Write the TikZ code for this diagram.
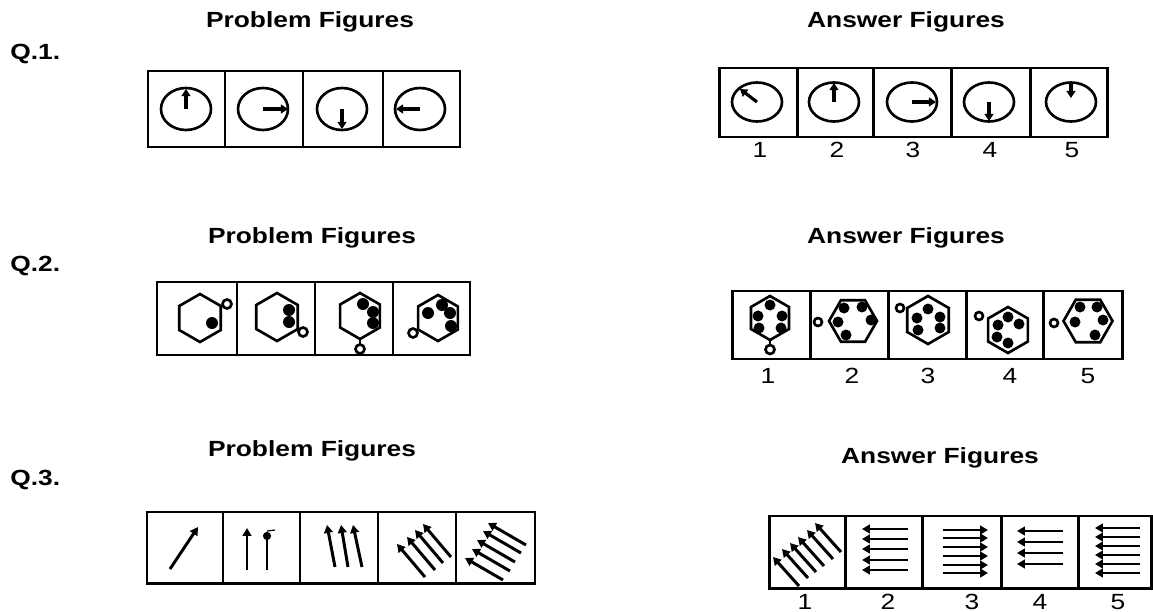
\documentclass[tikz,border=0pt]{standalone}
\usepackage{fontspec}
\setmainfont{Liberation Sans}
\usepackage{graphicx}
\usetikzlibrary{arrows.meta}

\tikzset{
  figbox/.style={draw, line width=1.7pt},
  rim/.style={line width=1.5pt},
  hand/.style={line width=1.8pt, -{Triangle[length=4pt,width=5pt]}},
  dart/.style={line width=1.7pt, -{Triangle[length=4.5pt,width=5pt]}},
  heading/.style={font=\fontsize{12.5}{14}\selectfont\bfseries, anchor=base, inner sep=0pt},
  qlabel/.style={font=\fontsize{12.5}{14}\selectfont\bfseries, anchor=base west, inner sep=0pt},
  numlabel/.style={font=\fontsize{12.5}{14}\selectfont, anchor=base, inner sep=0pt}
}
\newcommand{\widetext}[1]{\scalebox{1.2}[1]{#1}}
% hexagon: centre x, centre y, radius, first corner angle
\newcommand{\hexa}[4]{%
  \draw[rim] (#1,#2) +({#4}:#3) -- +({#4+60}:#3) -- +({#4+120}:#3)
    -- +({#4+180}:#3) -- +({#4+240}:#3) -- +({#4+300}:#3) -- cycle;}

\begin{document}
\begin{tikzpicture}[x=0.02cm, y=-0.02cm]
    \useasboundingbox (0,0) rectangle (1153,612);

    % ---------------- Q.1 ----------------
    \node[qlabel] (q1) at (10,59) {\widetext{Q.1.}};
    \node[heading] (pf1) at (310,28) {\widetext{Problem Figures}};
    \node[heading] (af1) at (906,28) {\widetext{Answer Figures}};

    % problem figures
    \foreach \xa/\xb in {148/225, 225/303, 303/383, 383/460}
        \draw[figbox] (\xa,71) rectangle (\xb,147);
    \foreach \cx in {186,263,342,420}
        \draw[rim] (\cx,109) ellipse [x radius=25, y radius=21];
    \draw[hand] (186,109) -- (186,89);
    \draw[hand] (263,109) -- (288,109);
    \draw[hand] (342,109) -- (342,129);
    \draw[hand] (420,109) -- (396,109);

    % answer figures
    \foreach \xa/\xb in {719/797, 797/873, 873/951, 951/1030, 1030/1107}
        \draw[figbox] (\xa,68) rectangle (\xb,137);
    \foreach \cx in {757,834,912,989,1071}
        \draw[rim] (\cx,102) ellipse [x radius=25, y radius=19.5];
    \draw[hand] (757,102) -- (740,89);
    \draw[hand] (834,102) -- (834,83);
    \draw[hand] (912,102) -- (936,102);
    \draw[hand] (989,102) -- (989,121);
    \draw[hand] (1071,83) -- (1071,98);
    \foreach \i/\nx in {1/760, 2/837, 3/913, 4/990, 5/1072}
        \node[numlabel] (na\i) at (\nx,157) {\widetext{\i}};

    % ---------------- Q.2 ----------------
    \node[qlabel] (q2) at (10,271) {\widetext{Q.2.}};
    \node[heading] (pf2) at (312,243) {\widetext{Problem Figures}};
    \node[heading] (af2) at (906,243) {\widetext{Answer Figures}};

    % problem figures
    \foreach \xa/\xb in {157/237, 237/315, 315/393, 393/470}
        \draw[figbox] (\xa,282) rectangle (\xb,355);
    \hexa{200}{318}{24}{90}
    \draw[rim] (227,304) circle [radius=4.5];
    \fill (212,323) circle [radius=6];

    \hexa{277}{317}{24}{90}
    \draw[rim] (303,332) circle [radius=4.5];
    \foreach \dx/\dy in {289/310, 289/322}
        \fill (\dx,\dy) circle [radius=6];

    \hexa{360}{316}{23}{90}
    \draw[rim] (360,339) -- (360,344.5);
    \draw[rim] (360,349) circle [radius=4.5];
    \foreach \dx/\dy in {363/304, 373/312, 373/323}
        \fill (\dx,\dy) circle [radius=6];

    \hexa{438}{318}{23}{90}
    \draw[rim] (413,333) circle [radius=4.5];
    \foreach \dx/\dy in {428/313, 442/305, 450/313, 451/326}
        \fill (\dx,\dy) circle [radius=6];

    % answer figures
    \foreach \xa/\xb in {732/810, 810/888, 888/966, 966/1043, 1043/1122}
        \draw[figbox] (\xa,291) rectangle (\xb,359);
    \hexa{770}{318}{22}{90}
    \draw[rim] (770,340) -- (770,345);
    \draw[rim] (770,349.5) circle [radius=4.5];
    \foreach \dx/\dy in {770/305, 758/316, 782/316, 759/328, 781/328}
        \fill (\dx,\dy) circle [radius=5.5];

    \hexa{853}{321}{24}{0}
    \draw[rim] (818,322) circle [radius=4];
    \foreach \dx/\dy in {844/308, 862/307, 838/322, 871/320, 846/335}
        \fill (\dx,\dy) circle [radius=5.5];

    \hexa{928}{320}{24}{90}
    \draw[rim] (900,308) circle [radius=4];
    \foreach \dx/\dy in {928/309, 940/317, 940/328, 917/318, 918/330}
        \fill (\dx,\dy) circle [radius=5.5];

    \hexa{1008}{330}{23}{90}
    \draw[rim] (979,316) circle [radius=4];
    \foreach \dx/\dy in {1008/317, 998/325, 1019/324, 997/337, 1008/343}
        \fill (\dx,\dy) circle [radius=5.5];

    \hexa{1088}{321}{24.5}{0}
    \draw[rim] (1054,323) circle [radius=4];
    \foreach \dx/\dy in {1080/307, 1097/307, 1103/320, 1075/322, 1095/335}
        \fill (\dx,\dy) circle [radius=5.5];

    \foreach \i/\nx in {1/768, 2/852, 3/928, 4/1010, 5/1088}
        \node[numlabel] (nb\i) at (\nx,383) {\widetext{\i}};

    % ---------------- Q.3 ----------------
    \node[qlabel] (q3) at (10,485) {\widetext{Q.3.}};
    \node[heading] (pf3) at (312,456) {\widetext{Problem Figures}};
    \node[heading] (af3) at (940,463) {\widetext{Answer Figures}};

    % problem figures
    \foreach \xa/\xb in {147/223, 223/300, 300/378, 378/456, 456/535}
        \draw[figbox] (\xa,512) rectangle (\xb,583);
    \draw[dart] (170,569) -- (198,527);
    \draw[dart] (247,570) -- (247,528);
    \draw[line width=1.7pt, -{Circle[length=4.5pt]}] (267,570) -- (267,532);
    \draw[line width=0.7pt] (267,531) -- (275,530);
    \foreach \tx/\hx in {335/327, 348/341, 362/353}
        \draw[dart] (\tx,567) -- (\hx,525);
    \foreach \hx/\hy in {397/544, 407/537, 415/530, 423/524}
        \draw[dart] (\hx+28,\hy+33) -- (\hx,\hy);
    \foreach \hx/\hy in {465/558, 472/549, 477/540, 483/531, 488/523}
        \draw[dart] (\hx+38,\hy+22) -- (\hx,\hy);

    % answer figures
    \foreach \xa/\xb in {769/845, 845/922, 922/1001, 1001/1078, 1078/1151}
        \draw[figbox] (\xa,516) rectangle (\xb,588);
    \foreach \hx/\hy in {773/557, 782/549, 790/543, 798/537, 807/530, 815/523}
        \draw[dart] (\hx+26,\hy+29) -- (\hx,\hy);
    \foreach \y in {529,539,549,560,570}
        \draw[dart] (908,\y) -- (862,\y);
    \foreach \y in {530,538,547,556,565,573}
        \draw[dart] (943,\y) -- (988,\y);
    \foreach \y in {531,542,553,564}
        \draw[dart] (1063,\y) -- (1017,\y);
    \foreach \y in {528,537,546,555,564,573}
        \draw[dart] (1140,\y) -- (1095,\y);
    \foreach \i/\nx in {1/805, 2/888, 3/972, 4/1040, 5/1118}
        \node[numlabel] (nc\i) at (\nx,609) {\widetext{\i}};
\end{tikzpicture}
\end{document}
